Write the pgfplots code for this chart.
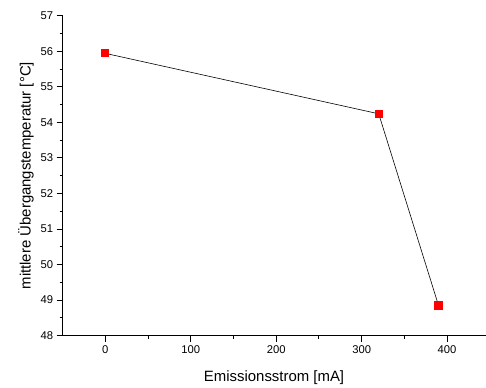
\documentclass[border=0pt]{standalone}
\usepackage{fontspec}
\setmainfont{Liberation Sans}
\usepackage{pgfplots}
\pgfplotsset{compat=1.18}
\begin{document}
\begin{tikzpicture}
\begin{axis}[
  at={(0,0)}, anchor=south west,
  scale only axis,
  width=423.3bp, height=320.3bp,
  xmin=-50, xmax=445,
  ymin=48, ymax=57,
  axis lines*=left,
  axis line style={line width=1pt},
  tick align=outside,
  major tick length=6bp,
  minor tick length=3bp,
  every tick/.style={black, line width=0.9pt},
  xtick={0,100,200,300,400},
  ytick={48,49,...,57},
  minor tick num=1,
  /pgf/number format/assume math mode=true,
  ticklabel style={font=\fontsize{11.3}{13}\selectfont},
  label style={font=\fontsize{15}{18}\selectfont},
  xlabel={Emissionsstrom [mA]},
  ylabel={mittlere Übergangstemperatur [°C]},
  xlabel style={at={(axis description cs:0.5,-0.1427)}, anchor=base},
  ylabel style={at={(axis description cs:-0.0756,0.5)}, anchor=base, rotate=0},
  clip=false,
]
\addplot[black, line width=0.6pt, mark=square*, mark size=3.6bp,
  mark options={fill=red, draw=red, line width=0pt}]
  coordinates {(0,55.94) (320,54.24) (390,48.85)};
\end{axis}
\path[use as bounding box] (-62.7bp,-47bp) rectangle (423.3bp,336bp);
\end{tikzpicture}
\end{document}
